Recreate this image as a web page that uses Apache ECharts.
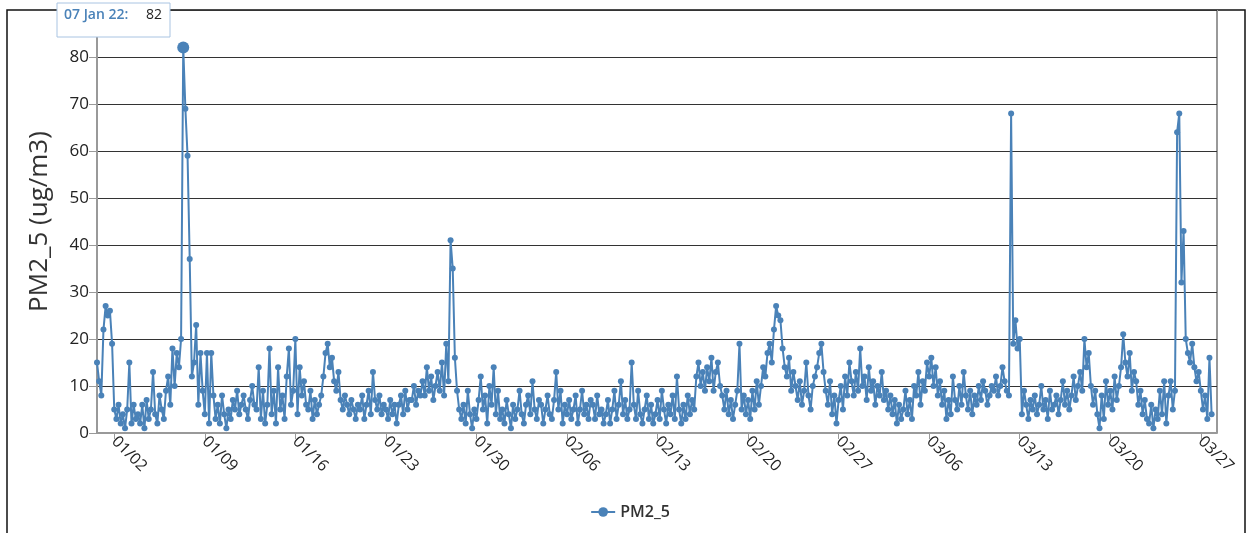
<!DOCTYPE html>
<html>
<head>
<meta charset="utf-8">
<script src="https://cdn.jsdelivr.net/npm/echarts@6/dist/echarts.min.js"></script>
<style>html,body{margin:0;padding:0;background:#fff}#chart{width:1260px;height:533px}</style>
</head>
<body>
<div id="chart"></div>
<script>
// PM2_5 readings, every 4 hours starting 31 Dec 16:00
const dec = [15, 11]
const jan = [
  8, 22, 27, 25, 26, 19,   5, 3, 6, 2, 4, 1,   5, 15, 2, 6, 3, 4,   2, 6, 1, 7, 3, 5,
  13, 4, 2, 8, 5, 3,   9, 12, 6, 18, 10, 17,   14, 20, 82, 69, 59, 37,   12, 15, 23, 6, 17, 9,
  4, 17, 2, 17, 8, 3,   6, 2, 8, 4, 1, 5,   3, 7, 5, 9, 4, 6,   8, 5, 3, 7, 10, 6,
  5, 14, 3, 9, 2, 6,   18, 4, 9, 2, 14, 5,   8, 3, 12, 18, 6, 9,   20, 4, 14, 8, 11, 6,
  5, 9, 3, 7, 4, 6,   8, 12, 17, 19, 14, 16,   11, 9, 13, 7, 5, 8,   6, 4, 7, 5, 3, 6,
  5, 8, 3, 6, 9, 4,   13, 7, 5, 8, 4, 6,   5, 3, 7, 4, 6, 2,   6, 8, 4, 9, 5, 7,
  7, 10, 6, 9, 8, 11,   8, 14, 9, 12, 7, 10,   13, 9, 15, 8, 19, 11,   41, 35, 16, 9, 5, 3,
  6, 2, 9, 4, 1, 5,   3, 7, 12, 5, 8, 2,   10, 6, 14, 4, 9, 3
]
const feb = [
  5, 2, 7, 4, 1, 6,   3, 5, 9, 4, 2, 6,   8, 4, 11, 5, 3, 7,   6, 2, 5, 8, 4, 3,
  7, 13, 5, 9, 2, 6,   4, 7, 3, 5, 8, 2,   5, 9, 4, 6, 3, 7,   6, 3, 8, 4, 5, 2,
  4, 7, 2, 5, 9, 3,   6, 11, 4, 7, 3, 5,   15, 6, 3, 9, 4, 2,   5, 8, 3, 6, 2, 4,
  7, 3, 9, 5, 2, 6,   4, 8, 3, 12, 5, 2,   6, 3, 8, 4, 7, 5,   12, 15, 10, 13, 9, 14,
  11, 16, 9, 13, 15, 10,   8, 5, 9, 4, 7, 3,   6, 9, 19, 5, 8, 4,   7, 3, 9, 5, 11, 6,
  10, 14, 12, 17, 19, 15,   22, 27, 25, 24, 18, 14,   12, 16, 9, 13, 10, 7,   11, 6, 9, 15, 8, 5,
  10, 12, 14, 17, 19, 13,   9, 6, 11, 4, 8, 2,   7, 10, 5, 12, 8, 15,   11, 8, 13, 9, 18, 10
]
const mar = [
  12, 7, 14, 9, 11, 6,   10, 8, 13, 7, 9, 5,   8, 4, 7, 2, 6, 3,   5, 9, 4, 7, 3, 10,
  8, 13, 6, 11, 9, 15,   12, 16, 10, 14, 8, 11,   6, 9, 3, 7, 4, 12,   7, 5, 10, 6, 13, 8,
  5, 9, 4, 8, 6, 10,   7, 11, 9, 6, 8, 10,   9, 12, 8, 10, 14, 11,   9, 8, 68, 19, 24, 18,
  20, 4, 9, 6, 3, 7,   5, 8, 4, 6, 10, 5,   7, 3, 9, 5, 6, 8,   4, 7, 11, 6, 9, 5,
  8, 12, 7, 10, 13, 9,   20, 14, 17, 10, 6, 9,   4, 1, 8, 3, 11, 6,   9, 5, 12, 7, 10, 14,
  21, 15, 12, 17, 9, 13,   11, 6, 9, 4, 7, 3,   2, 6, 1, 5, 3, 9,   4, 11, 2, 8, 11, 5,
  9, 64, 68, 32, 43, 20,   17, 15, 19, 14, 11, 13,   9, 5, 8, 3, 16, 4
]
const tickDates = ['2022-01-02', '2022-01-09', '2022-01-16', '2022-01-23', '2022-01-30', '2022-02-06',
  '2022-02-13', '2022-02-20', '2022-02-27', '2022-03-06', '2022-03-13', '2022-03-20', '2022-03-27']

const STEP = 4 * 3600 * 1000
const start = new Date(2021, 11, 31, 16).getTime()
const values = [...dec, ...jan, ...feb, ...mar]
const points = values.map((v, i) => [start + i * STEP, v])
const ticks = tickDates.map(d => new Date(d + 'T00:00:00').getTime())

const pad = n => String(n).padStart(2, '0')
const FONT = '"Open Sans", "Noto Sans", sans-serif'
const BLUE = '#4a82b8'

const chart = echarts.init(document.getElementById('chart'))
chart.setOption({
  animation: false,
  textStyle: { fontFamily: FONT },
  grid: { left: 97, right: 43, top: 10, bottom: 100 },
  xAxis: {
    type: 'value',
    min: start,
    max: new Date(2022, 2, 28, 6).getTime(),
    axisLine: { lineStyle: { color: '#999', width: 2 } },
    axisTick: { show: true, customValues: ticks, length: 6, lineStyle: { color: '#999' } },
    axisLabel: {
      customValues: ticks, rotate: -45, fontSize: 16, color: '#222', margin: 6,
      formatter: v => { const d = new Date(v); return pad(d.getMonth() + 1) + '/' + pad(d.getDate()) }
    },
    splitLine: { show: false }
  },
  yAxis: {
    type: 'value', min: 0, max: 90, interval: 10,
    name: 'PM2_5 (ug/m3)', nameLocation: 'middle', nameGap: 44,
    nameTextStyle: { fontSize: 26, color: '#333' },
    axisLine: { show: true, lineStyle: { color: '#999', width: 2 } },
    axisTick: { show: true, length: 8, lineStyle: { color: '#999' } },
    axisLabel: { fontSize: 17, color: '#222', formatter: v => v === 90 ? '' : v },
    splitLine: { lineStyle: { color: '#333', width: 1 } }
  },
  legend: {
    bottom: 8, left: 'center', itemWidth: 24, itemHeight: 12,
    textStyle: { fontSize: 16, color: '#333', fontWeight: 600 },
    data: ['PM2_5']
  },
  graphic: [
    { type: 'polyline', silent: true, shape: { points: [[7, 533], [7, 10], [1245, 10], [1245, 533]] },
      style: { stroke: '#111', fill: null, lineWidth: 1.5 } },
    { type: 'line', silent: true, shape: { x1: 1217, y1: 10, x2: 1217, y2: 433 },
      style: { stroke: '#999', lineWidth: 2 } },
    { type: 'rect', silent: true, z: 100, shape: { x: 57, y: 3, width: 113, height: 34 },
      style: { fill: '#fff', stroke: '#a9c4e2', lineWidth: 1 } },
    { type: 'text', silent: true, z: 101, left: 64, top: 8,
      style: { text: '07 Jan 22:', fill: BLUE, font: '600 14px ' + FONT } },
    { type: 'text', silent: true, z: 101, left: 146, top: 8,
      style: { text: '82', fill: '#222', font: '14px ' + FONT } }
  ],
  series: [{
    name: 'PM2_5', type: 'line', data: points,
    color: BLUE, showAllSymbol: true, symbol: 'circle',
    symbolSize: (v) => v[1] === 82 ? 12 : 6,
    lineStyle: { width: 2, color: BLUE },
    itemStyle: { color: BLUE }
  }]
})
</script>
</body>
</html>
